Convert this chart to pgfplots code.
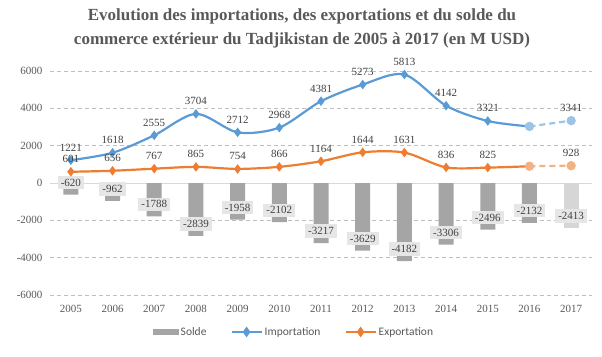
\documentclass[border=0pt]{standalone}
\usepackage{pgfplots}
\pgfplotsset{compat=1.18}
\usepackage{fontspec}
\setmainfont{Liberation Serif}
\newfontfamily\legfont{Carlito}
\definecolor{txt}{HTML}{595959}
\definecolor{lbl}{HTML}{404040}
\definecolor{impc}{HTML}{5B9BD5}
\definecolor{impl}{HTML}{9DC3E6}
\definecolor{expc}{HTML}{ED7D31}
\definecolor{expl}{HTML}{F4B183}
\definecolor{barc}{HTML}{A5A5A5}
\definecolor{barl}{HTML}{D6D6D6}
\definecolor{boxc}{HTML}{E7E6E6}
\begin{document}
\begin{tikzpicture}
\path[use as bounding box] (-50pt,-61pt) rectangle (552pt,295pt);
\begin{axis}[
  scale only axis, width=542pt, height=224pt,
  at={(0,0)}, anchor=south west,
  xmin=-0.5, xmax=12.5, ymin=-6000, ymax=6000,
  xtick={0,...,12},
  xticklabels={2005,2006,2007,2008,2009,2010,2011,2012,2013,2014,2015,2016,2017},
  ytick={-6000,-4000,-2000,2000,4000,6000},
  extra y ticks={0},
  extra y tick style={grid style={solid, draw=black!15, line width=0.8pt}},
  ymajorgrids,
  grid style={draw=black!25, dash pattern=on 4pt off 3pt, line width=0.6pt},
  axis line style={draw=none},
  major tick length=0pt,
  /pgf/number format/1000 sep={},
  /pgf/number format/assume math mode=true,
  tick label style={font=\fontsize{11}{13}\selectfont, text=txt},
  yticklabel style={xshift=-4pt},
  xticklabel style={yshift=-7pt},
  clip=false,
  title={Evolution des importations, des exportations et du solde du\\commerce extérieur du Tadjikistan de 2005 à 2017 (en M USD)},
  title style={align=center, font=\bfseries\fontsize{17}{24}\selectfont, text=txt, at={(0.465,1)}, anchor=south, yshift=13pt},
  legend style={at={(0.45,-0.165)}, anchor=center, draw=none, fill=none,
    legend columns=-1, font=\legfont\fontsize{11.5}{13}\selectfont, text=txt,
    /tikz/every even column/.append style={column sep=22pt}},
]
% Solde bars
\addplot[ybar, bar width=15pt, bar shift=0pt, fill=barc, draw=none,
  nodes near coords,
  every node near coord/.append style={anchor=center, yshift=12pt, fill=boxc, inner sep=3pt, text=lbl, font=\fontsize{11}{13}\selectfont},
  area legend,
  legend image code/.code={\fill[barc] (0pt,-3pt) rectangle (26pt,3pt);}]
coordinates {(0,-620) (1,-962) (2,-1788) (3,-2839) (4,-1958) (5,-2102) (6,-3217) (7,-3629) (8,-4182) (9,-3306) (10,-2496) (11,-2132)};
\addlegendentry{Solde}
\addplot[ybar, bar width=15pt, bar shift=0pt, fill=barl, draw=none, forget plot,
  nodes near coords,
  every node near coord/.append style={anchor=center, yshift=12pt, fill=boxc, inner sep=3pt, text=lbl, font=\fontsize{11}{13}\selectfont}]
coordinates {(12,-2413)};
% Importation
\addplot[impc, line width=2.2pt, smooth, mark=diamond*, mark size=3pt, mark indices={1,...,11},
  legend image code/.code={\draw[impc, line width=2.2pt] (0pt,0pt) -- (30pt,0pt); \fill[impc] (15pt,3.5pt) -- (17.5pt,0pt) -- (15pt,-3.5pt) -- (12.5pt,0pt) -- cycle;},
  nodes near coords,
  every node near coord/.append style={anchor=south, yshift=6pt, inner sep=2pt, text=lbl, font=\fontsize{11}{13}\selectfont}]
coordinates {(0,1221) (1,1618) (2,2555) (3,3704) (4,2712) (5,2968) (6,4381) (7,5273) (8,5813) (9,4142) (10,3321) (11,3031)};
\addlegendentry{Importation}
% Exportation
\addplot[expc, line width=2.2pt, smooth, mark=diamond*, mark size=3pt, mark indices={1,...,11},
  legend image code/.code={\draw[expc, line width=2.2pt] (0pt,0pt) -- (30pt,0pt); \fill[expc] (15pt,3.5pt) -- (17.5pt,0pt) -- (15pt,-3.5pt) -- (12.5pt,0pt) -- cycle;},
  nodes near coords,
  every node near coord/.append style={anchor=south, yshift=6pt, inner sep=2pt, text=lbl, font=\fontsize{11}{13}\selectfont}]
coordinates {(0,601) (1,656) (2,767) (3,865) (4,754) (5,866) (6,1164) (7,1644) (8,1631) (9,836) (10,825) (11,899)};
\addlegendentry{Exportation}
% dashed projections
\addplot[impl, line width=2.2pt, dash pattern=on 6pt off 4pt, mark=*, mark size=3.5pt, mark options={solid, fill=impl, draw=impl}, forget plot,
  point meta=explicit symbolic, nodes near coords,
  every node near coord/.append style={anchor=south, yshift=6pt, inner sep=2pt, text=lbl, font=\fontsize{11}{13}\selectfont}]
coordinates {(11,3031) [] (12,3341) [3341]};
\addplot[expl, line width=2.2pt, dash pattern=on 6pt off 4pt, mark=*, mark size=3.5pt, mark options={solid, fill=expl, draw=expl}, forget plot,
  point meta=explicit symbolic, nodes near coords,
  every node near coord/.append style={anchor=south, yshift=6pt, inner sep=2pt, text=lbl, font=\fontsize{11}{13}\selectfont}]
coordinates {(11,899) [] (12,928) [928]};
\end{axis}
\end{tikzpicture}
\end{document}
